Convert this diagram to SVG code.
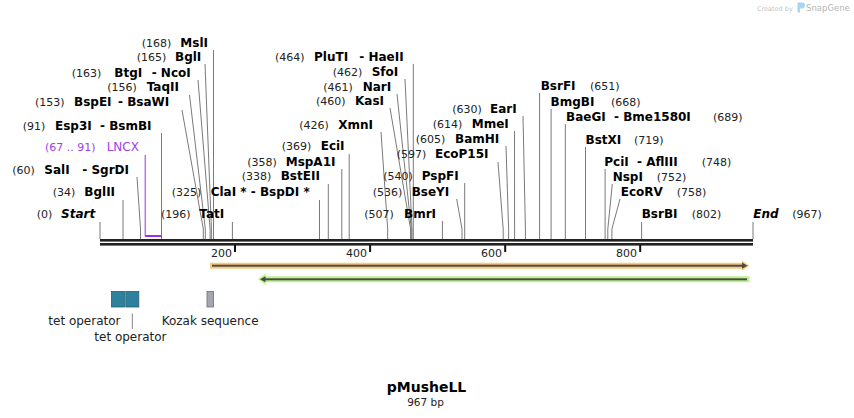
<svg xmlns="http://www.w3.org/2000/svg" width="854" height="418" viewBox="0 0 854 418">
<style>
text{font-family:"DejaVu Sans","Verdana",sans-serif}
.n{font-size:11px;fill:#222}
.e{font-size:12px;font-weight:bold;fill:#000}
.i{font-style:italic}
.p{font-size:12px;fill:#a040f0}
.pn{font-size:11px;fill:#a040f0}
.ll{stroke:#7a7a7a;stroke-width:1;fill:none}
.tk{font-size:11px;fill:#222}
.ft{font-size:12px;fill:#222}
</style>
<rect width="854" height="418" fill="#fff"/>
<g id="watermark">
<text x="757" y="10.5" style="font-size:6.5px;fill:#c4c4c4">Created by</text>
<path d="M797.5,2.5 h4.5 a3,3 0 0 1 0,6 h-2 v4 h-2.5 z" fill="#a6d6f3"/>
<text x="806" y="10.5" style="font-size:8.5px;fill:#b5b5b5">SnapGene</text>
</g>
<g id="connectors">
<polyline class="ll" points="213.5,50 213.5,239"/>
<polyline class="ll" points="205,64 211.4,229 211.4,239"/>
<polyline class="ll" points="198,80 210.1,229 210.1,239"/>
<polyline class="ll" points="189.5,95 205.3,229 205.3,239"/>
<polyline class="ll" points="182,110 203.3,229 203.3,239"/>
<polyline class="ll" points="161.5,133 161.5,239"/>
<polyline class="ll" points="137,177 140.5,229 140.5,239"/>
<polyline class="ll" points="123,200 123,239"/>
<polyline class="ll" points="100,222 100,239"/>
<polyline class="ll" points="232.4,222 232.4,239"/>
<polyline class="ll" points="319.5,200 319.5,239"/>
<polyline class="ll" points="328.3,184 328.3,239"/>
<polyline class="ll" points="341.8,169 341.8,239"/>
<polyline class="ll" points="349.2,154 349.2,239"/>
<polyline class="ll" points="381,132 387.7,229 387.7,239"/>
<polyline class="ll" points="390,108 410.6,229 410.6,239"/>
<polyline class="ll" points="397,94 411.3,229 411.3,239"/>
<polyline class="ll" points="405,79 412,229 412,239"/>
<polyline class="ll" points="413.3,64 413.3,239"/>
<polyline class="ll" points="442.4,221 442.4,239"/>
<polyline class="ll" points="456.7,199 462,229 462,239"/>
<polyline class="ll" points="464.7,183 464.7,239"/>
<polyline class="ll" points="498,162 503.2,229 503.2,239"/>
<polyline class="ll" points="506,146 508.6,229 508.6,239"/>
<polyline class="ll" points="514.5,131 514.6,229 514.6,239"/>
<polyline class="ll" points="523,116 525.4,229 525.4,239"/>
<polyline class="ll" points="539.6,93 539.6,239"/>
<polyline class="ll" points="551.1,109 551.1,239"/>
<polyline class="ll" points="565.3,124 565.3,239"/>
<polyline class="ll" points="585.5,147 585.5,239"/>
<polyline class="ll" points="605.1,169 605.1,239"/>
<polyline class="ll" points="612.3,184 607.8,229 607.8,239"/>
<polyline class="ll" points="620,199 611.9,229 611.9,239"/>
<polyline class="ll" points="641.6,222 641.6,239"/>
<polyline class="ll" points="753,222 753,239"/>
<polyline points="145.2,155 145.2,236 161.5,236" fill="none" stroke="#9933ee" stroke-width="1"/>
<line x1="145.2" y1="236" x2="161.5" y2="236" stroke="#9933ee" stroke-width="2"/>
</g>
<g id="backbone">
<rect x="100" y="239" width="653" height="2.6" fill="#222"/>
<rect x="100" y="243" width="653" height="2.6" fill="#222"/>
<rect x="234" y="245" width="2" height="7" fill="#111"/>
<rect x="369.1" y="245" width="2" height="7" fill="#111"/>
<rect x="504.2" y="245" width="2" height="7" fill="#111"/>
<rect x="639.2" y="245" width="2" height="7" fill="#111"/>
<text class="tk" x="232" y="256.5" text-anchor="end">200</text>
<text class="tk" x="367" y="256.5" text-anchor="end">400</text>
<text class="tk" x="502" y="256.5" text-anchor="end">600</text>
<text class="tk" x="637" y="256.5" text-anchor="end">800</text>
</g>
<g id="feature-orange">
<polygon points="210,262.7 742,262.7 742,260.5 749.5,265.7 742,270.8 742,268.7 210,268.7" fill="#f9ca7c"/>
<rect x="212" y="264.7" width="532" height="2" fill="#4a4a4a"/>
<polygon points="742,262.6 747.5,265.7 742,268.8" fill="#4a4a4a"/>
</g>
<g id="feature-green">
<polygon points="258,279.3 265.5,273.5 265.5,276.2 749.5,276.2 749.5,282.2 265.5,282.2 265.5,285" fill="#bdf28a"/>
<rect x="264" y="278.3" width="483" height="2" fill="#4a4a4a"/>
<polygon points="260,279.3 265.5,276.3 265.5,282.3" fill="#4a4a4a"/>
</g>
<g id="tet-operator-1">
<rect x="111.5" y="291.5" width="13" height="15.5" fill="#2e809c" stroke="#1d5f75" stroke-width="0.8"/>
<text class="ft" x="48.3" y="325">tet operator</text>
</g>
<g id="tet-operator-2">
<rect x="125.8" y="291.5" width="13" height="15.5" fill="#2e809c" stroke="#1d5f75" stroke-width="0.8"/>
<line x1="132.3" y1="313.5" x2="132.3" y2="329" stroke="#888" stroke-width="1"/>
<text class="ft" x="94.3" y="341">tet operator</text>
</g>
<g id="kozak">
<rect x="207" y="291.5" width="6.5" height="15.5" fill="#a3a7ae" stroke="#6c6f75" stroke-width="0.8"/>
<text class="ft" x="161.7" y="325">Kozak sequence</text>
</g>
<g id="MslI"><text class="n" x="141.7" y="47">(168)</text><text class="e" x="180.3" y="47">MslI</text></g>
<g id="BglI"><text class="n" x="136.7" y="61">(165)</text><text class="e" x="175" y="61">BglI</text></g>
<g id="BtgI"><text class="n" x="71.7" y="77">(163)</text><text class="e" x="114.3" y="77">BtgI</text><text class="e" x="151.7" y="77">- NcoI</text></g>
<g id="TaqII"><text class="n" x="107.3" y="91">(156)</text><text class="e" x="146.7" y="91">TaqII</text></g>
<g id="BspEI"><text class="n" x="35" y="106">(153)</text><text class="e" x="74" y="106">BspEI</text><text class="e" x="118" y="106">- BsaWI</text></g>
<g id="Esp3I"><text class="n" x="22.7" y="130">(91)</text><text class="e" x="55" y="130">Esp3I</text><text class="e" x="100" y="130">- BsmBI</text></g>
<g id="LNCX"><text class="pn" x="45" y="151">(67 .. 91)</text><text class="p" x="106.7" y="151">LNCX</text></g>
<g id="SalI"><text class="n" x="12.3" y="174">(60)</text><text class="e" x="44.3" y="174">SalI</text><text class="e" x="82.3" y="174">- SgrDI</text></g>
<g id="BglII"><text class="n" x="52.7" y="196">(34)</text><text class="e" x="84.3" y="196">BglII</text></g>
<g id="Start"><text class="n" x="36.7" y="218">(0)</text><text class="e i" x="61" y="218">Start</text></g>
<g id="TatI"><text class="n" x="161" y="218">(196)</text><text class="e" x="199.3" y="218">TatI</text></g>
<g id="ClaI"><text class="n" x="171.7" y="196">(325)</text><text class="e" x="210.7" y="196">ClaI * - BspDI *</text></g>
<g id="BstEII"><text class="n" x="241.7" y="180">(338)</text><text class="e" x="280.7" y="180">BstEII</text></g>
<g id="MspA1I"><text class="n" x="247.3" y="166">(358)</text><text class="e" x="285.7" y="166">MspA1I</text></g>
<g id="EciI"><text class="n" x="281.7" y="150">(369)</text><text class="e" x="320.7" y="150">EciI</text></g>
<g id="XmnI"><text class="n" x="299.3" y="129">(426)</text><text class="e" x="338.3" y="129">XmnI</text></g>
<g id="KasI"><text class="n" x="316" y="105">(460)</text><text class="e" x="355" y="105">KasI</text></g>
<g id="NarI"><text class="n" x="323.3" y="91">(461)</text><text class="e" x="362.7" y="91">NarI</text></g>
<g id="SfoI"><text class="n" x="332.7" y="76">(462)</text><text class="e" x="371.7" y="76">SfoI</text></g>
<g id="PluTI"><text class="n" x="275" y="61">(464)</text><text class="e" x="314" y="61">PluTI</text><text class="e" x="359.3" y="61">- HaeII</text></g>
<g id="BmrI"><text class="n" x="364.3" y="218">(507)</text><text class="e" x="404" y="218">BmrI</text></g>
<g id="BseYI"><text class="n" x="372.7" y="196">(536)</text><text class="e" x="411.7" y="196">BseYI</text></g>
<g id="PspFI"><text class="n" x="383.3" y="180">(540)</text><text class="e" x="421.7" y="180">PspFI</text></g>
<g id="EcoP15I"><text class="n" x="396.7" y="158">(597)</text><text class="e" x="435" y="158">EcoP15I</text></g>
<g id="BamHI"><text class="n" x="415.7" y="143">(605)</text><text class="e" x="455" y="143">BamHI</text></g>
<g id="MmeI"><text class="n" x="432.7" y="128">(614)</text><text class="e" x="471.7" y="128">MmeI</text></g>
<g id="EarI"><text class="n" x="452.3" y="113">(630)</text><text class="e" x="490" y="113">EarI</text></g>
<g id="BsrFI"><text class="e" x="540.7" y="90">BsrFI</text><text class="n" x="590" y="90">(651)</text></g>
<g id="BmgBI"><text class="e" x="550.5" y="106">BmgBI</text><text class="n" x="611" y="106">(668)</text></g>
<g id="BaeGI"><text class="e" x="566" y="121">BaeGI</text><text class="e" x="614" y="121">- Bme1580I</text><text class="n" x="713" y="121">(689)</text></g>
<g id="BstXI"><text class="e" x="585.5" y="144">BstXI</text><text class="n" x="634" y="144">(719)</text></g>
<g id="PciI"><text class="e" x="604.3" y="166">PciI</text><text class="e" x="637" y="166">- AflIII</text><text class="n" x="701.7" y="166">(748)</text></g>
<g id="NspI"><text class="e" x="612.7" y="181">NspI</text><text class="n" x="656.7" y="181">(752)</text></g>
<g id="EcoRV"><text class="e" x="620.7" y="196">EcoRV</text><text class="n" x="676.7" y="196">(758)</text></g>
<g id="BsrBI"><text class="e" x="641.7" y="218">BsrBI</text><text class="n" x="691.7" y="218">(802)</text></g>
<g id="End"><text class="e i" x="753.3" y="218">End</text><text class="n" x="792.3" y="218">(967)</text></g>
<g id="title">
<text x="426.5" y="392" text-anchor="middle" style="font-size:14px;font-weight:bold;fill:#000">pMusheLL</text>
<text x="425.5" y="406" text-anchor="middle" style="font-size:10.5px;fill:#222">967 bp</text>
</g>
</svg>
